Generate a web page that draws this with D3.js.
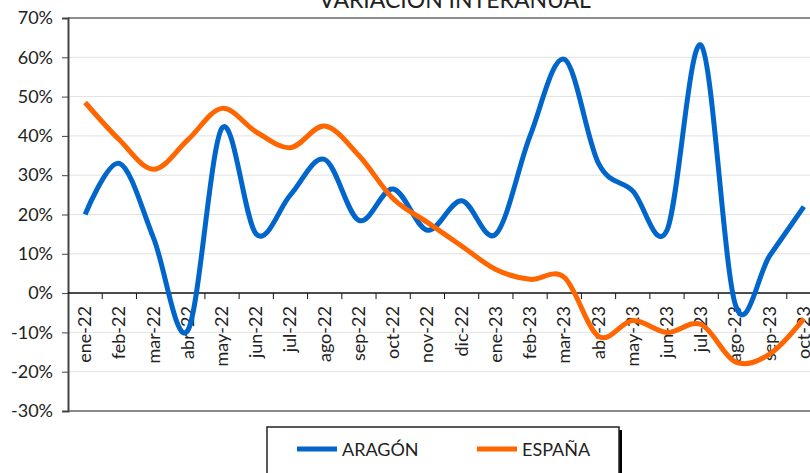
<!DOCTYPE html>
<html>
<head>
<meta charset="utf-8">
<script src="https://cdn.jsdelivr.net/npm/d3@7"></script>
<style>
  body { margin: 0; background: #fff; }
  svg { display: block; font-family: Lato, "Liberation Sans", sans-serif; }
</style>
</head>
<body>
<svg id="chart" width="810" height="473"></svg>
<script>
const months = ["ene-22", "feb-22", "mar-22", "abr-22", "may-22", "jun-22", "jul-22", "ago-22",
    "sep-22", "oct-22", "nov-22", "dic-22", "ene-23", "feb-23", "mar-23", "abr-23", "may-23",
    "jun-23", "jul-23", "ago-23", "sep-23", "oct-23"];
const aragon = [20, 33, 14, -9.5, 42, 15, 25, 34, 18.5, 26.5, 16, 23.5, 15, 40, 59.5, 33, 26,
    16, 63, -3, 9.5, 22];
const espana = [48.5, 39, 31.5, 39, 47, 41, 37, 42.5, 35, 24, 18, 12, 6, 3.5, 4, -11, -7,
    -10, -8, -17.5, -15.5, -6.5];
const yTicks = [-30, -20, -10, 0, 10, 20, 30, 40, 50, 60, 70];
const seriesNames = ["ARAGÓN", "ESPAÑA"];
const seriesColors = ["#0066cc", "#ff6600"];

const svg = d3.select("#chart");
const plotLeft = 68, plotRight = 821, plotTop = 18, plotBottom = 411;

const x = d3.scaleBand().domain(months).range([plotLeft, plotRight]);
const y = d3.scaleLinear().domain([-30, 70]).range([plotBottom, plotTop]);

// title (mostly cut off at the top)
svg.append("text")
    .attr("x", 455)
    .attr("y", 8)
    .attr("text-anchor", "middle")
    .attr("font-size", 23)
    .attr("fill", "#222")
    .text("VARIACIÓN INTERANUAL");

// gridlines
svg.append("g")
    .selectAll("line")
    .data(yTicks.filter((d) => d !== 0 && d !== -30 && d !== 70))
    .enter()
    .append("line")
    .attr("x1", plotLeft)
    .attr("x2", plotRight)
    .attr("y1", (d) => y(d))
    .attr("y2", (d) => y(d))
    .attr("stroke", "#e2e2e2")
    .attr("stroke-width", 1);

// plot border top / bottom
svg.append("line")
    .attr("x1", plotLeft).attr("x2", 810)
    .attr("y1", y(70)).attr("y2", y(70))
    .attr("stroke", "#8c8c8c").attr("stroke-width", 2);
svg.append("line")
    .attr("x1", plotLeft).attr("x2", 810)
    .attr("y1", y(-30)).attr("y2", y(-30))
    .attr("stroke", "#8c8c8c").attr("stroke-width", 2);

// y axis
const yAxis = svg.append("g")
    .attr("transform", `translate(${plotLeft},0)`)
    .call(d3.axisLeft(y).tickValues(yTicks).tickSize(6).tickFormat((d) => d + "%"));
yAxis.select(".domain").attr("stroke", "#444").attr("stroke-width", 2);
yAxis.selectAll(".tick line").attr("stroke", "#444");
yAxis.selectAll("text")
    .attr("font-size", 18)
    .attr("font-family", "Lato, sans-serif")
    .attr("fill", "#222")
    .attr("x", -15);

// x axis at zero
const boundaries = months.map((m) => x(m)).concat([plotRight]).slice(1);
const xAxis = svg.append("g");
xAxis.append("line")
    .attr("x1", plotLeft).attr("x2", 810)
    .attr("y1", y(0)).attr("y2", y(0))
    .attr("stroke", "#111").attr("stroke-width", 1.5);
xAxis.selectAll(".tk")
    .data(boundaries)
    .enter()
    .append("line")
    .attr("class", "tk")
    .attr("x1", (d) => d).attr("x2", (d) => d)
    .attr("y1", y(0)).attr("y2", y(0) + 6)
    .attr("stroke", "#111");
xAxis.selectAll(".lbl")
    .data(months)
    .enter()
    .append("text")
    .attr("class", "lbl")
    .attr("transform", (d) => `translate(${x(d) + x.bandwidth() / 2 + 6},${y(0) + 13}) rotate(-90)`)
    .attr("text-anchor", "end")
    .attr("font-size", 18)
    .attr("fill", "#222")
    .text((d) => d);

// lines
const line = d3.line()
    .x((d, i) => x(months[i]) + x.bandwidth() / 2)
    .y((d) => y(d))
    .curve(d3.curveCatmullRom.alpha(0));

[aragon, espana].forEach((s, i) => {
    svg.append("path")
        .datum(s)
        .attr("d", line)
        .attr("fill", "none")
        .attr("stroke", seriesColors[i])
        .attr("stroke-width", 5)
        .attr("stroke-linejoin", "round");
});

// legend
const lg = svg.append("g");
lg.append("rect")
    .attr("x", 270).attr("y", 430)
    .attr("width", 352).attr("height", 50)
    .attr("fill", "#000");
lg.append("rect")
    .attr("x", 267).attr("y", 427)
    .attr("width", 352).attr("height", 50)
    .attr("fill", "#fff")
    .attr("stroke", "#222").attr("stroke-width", 1.5);
const legendX = [297, 477];
seriesNames.forEach((n, i) => {
    lg.append("line")
        .attr("x1", legendX[i]).attr("x2", legendX[i] + 40)
        .attr("y1", 449).attr("y2", 449)
        .attr("stroke", seriesColors[i]).attr("stroke-width", 5);
    lg.append("text")
        .attr("x", legendX[i] + 45)
        .attr("y", 456)
        .attr("font-size", 18)
        .attr("fill", "#222")
        .text(n);
});
</script>
</body>
</html>
